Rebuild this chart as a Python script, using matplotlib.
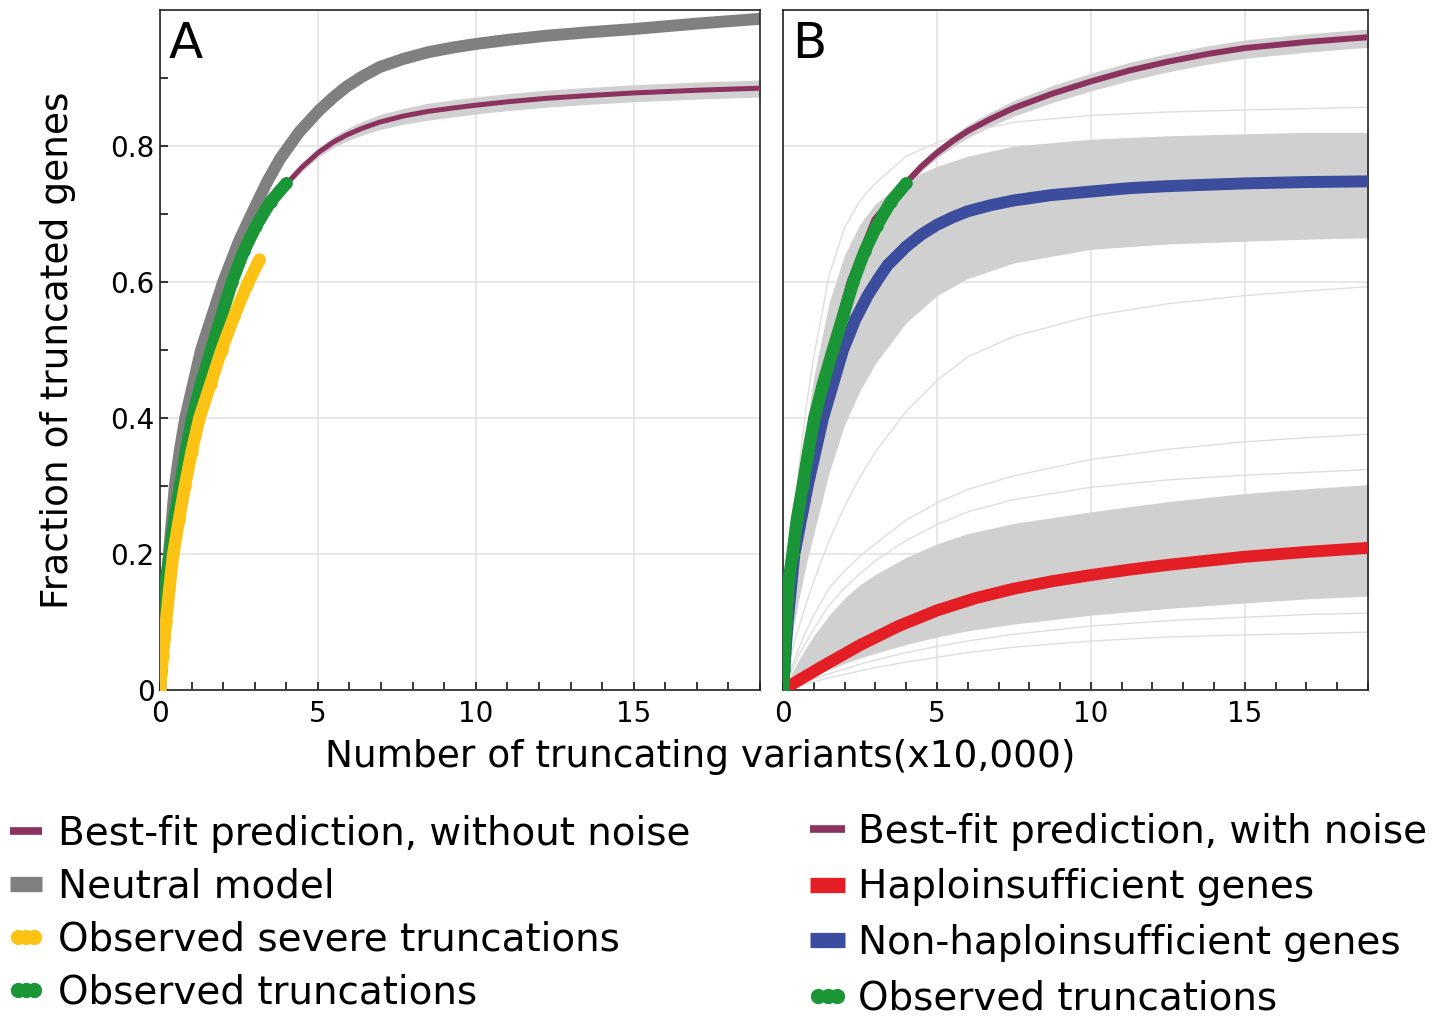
import matplotlib
matplotlib.use("Agg")
import matplotlib.pyplot as plt
from matplotlib.lines import Line2D
from matplotlib.legend_handler import HandlerLine2D

# ---------------------------------------------------------------------------
# Data
# ---------------------------------------------------------------------------

# Panel A: neutral model
neutral_x = [0, 0.13, 0.28, 0.47, 0.62, 0.8, 1.3, 2.0, 2.5, 2.9, 3.4, 3.8, 4.4, 5.03, 5.5, 5.9, 6.4,
             6.95, 7.7, 8.5, 9.3, 10, 11, 12.2, 13.5, 15, 17, 19]
neutral_y = [0, 0.10, 0.20, 0.30, 0.35, 0.40, 0.50, 0.60, 0.66, 0.70, 0.748, 0.781, 0.82, 0.852,
             0.872, 0.887, 0.902, 0.916, 0.928, 0.938, 0.945, 0.950, 0.956, 0.962, 0.967, 0.972,
             0.980, 0.987]

# Panel A: best-fit prediction without noise
fitA_x = [0, 0.12, 0.29, 0.6, 1.0, 1.6, 2.3, 3.1, 4.0, 4.5, 5.03, 5.5, 5.9, 6.4, 6.95, 7.7, 8.5,
          9.3, 10, 11, 12.2, 13.5, 15, 17, 19]
fitA_y = [0, 0.10, 0.20, 0.30, 0.40, 0.50, 0.60, 0.685, 0.744, 0.769, 0.791, 0.806, 0.816, 0.826,
          0.835, 0.844, 0.851, 0.856, 0.860, 0.865, 0.870, 0.874, 0.878, 0.882, 0.885]

# Panel A: spread of simulated curves around the best fit
noiseA_x = [4.0, 4.5, 5.03, 5.5, 5.9, 6.4, 6.95, 7.7, 8.5, 9.3, 10, 11, 12.2, 13.5, 15, 17, 19]
noiseA_hi = [0.749, 0.775, 0.798, 0.814, 0.825, 0.836, 0.846, 0.855, 0.863, 0.868, 0.872, 0.877,
             0.882, 0.886, 0.890, 0.894, 0.897]
noiseA_lo = [0.739, 0.763, 0.784, 0.798, 0.807, 0.816, 0.824, 0.832, 0.838, 0.843, 0.847, 0.852,
             0.857, 0.861, 0.865, 0.869, 0.872]

# Observed truncations (both panels)
obs_x = [0, 0.03, 0.06, 0.1, 0.15, 0.2, 0.31, 0.45, 0.64, 0.82, 1.02, 1.3, 1.62, 1.95, 2.28, 2.65,
         3.05, 3.5, 4.0]
obs_y = [0, 0.03, 0.065, 0.1, 0.135, 0.165, 0.2, 0.25, 0.3, 0.35, 0.4, 0.45, 0.5, 0.55, 0.6, 0.645,
         0.683, 0.718, 0.745]

# Observed severe truncations (panel A)
sev_x = [0, 0.04, 0.09, 0.14, 0.19, 0.3, 0.42, 0.6, 0.79, 1.0, 1.25, 1.6, 1.95, 2.35, 2.75, 3.15]
sev_y = [0, 0.025, 0.05, 0.075, 0.1, 0.15, 0.2, 0.25, 0.3, 0.35, 0.4, 0.45, 0.5, 0.55, 0.595, 0.633]

# Panel B: best-fit prediction with noise
fitB_x = [0, 0.1, 0.31, 0.64, 1.02, 1.56, 2.16, 2.97, 4.0, 4.5, 5, 5.5, 6, 6.75, 7.5, 8.75, 10,
          11.25, 12.5, 13.75, 15, 17, 19]
fitB_y = [0, 0.1, 0.2, 0.3, 0.4, 0.5, 0.6, 0.692, 0.746, 0.770, 0.790, 0.807, 0.822, 0.840, 0.856,
          0.877, 0.895, 0.911, 0.924, 0.935, 0.944, 0.953, 0.960]
noiseB_x = [4.0, 4.5, 5, 5.5, 6, 6.75, 7.5, 8.75, 10, 11.25, 12.5, 13.75, 15, 17, 19]
noiseB_hi = [0.751, 0.776, 0.797, 0.815, 0.831, 0.850, 0.867, 0.889, 0.907, 0.923, 0.936, 0.947,
             0.956, 0.965, 0.972]
noiseB_lo = [0.740, 0.763, 0.782, 0.798, 0.812, 0.829, 0.844, 0.864, 0.881, 0.896, 0.909, 0.920,
             0.929, 0.938, 0.945]

# Panel B: non-haploinsufficient genes
blue_x = [0, 0.15, 0.37, 0.8, 1.3, 1.95, 2.35, 2.75, 3.1, 3.4, 4.0, 4.5, 5, 5.5, 6, 6.75, 7.5,
          8.75, 10, 11.25, 12.5, 15, 17, 19]
blue_y = [0, 0.1, 0.2, 0.3, 0.4, 0.5, 0.545, 0.58, 0.605, 0.625, 0.652, 0.67, 0.684, 0.695, 0.704,
          0.713, 0.72, 0.728, 0.733, 0.738, 0.741, 0.745, 0.747, 0.748]

# Panel B: haploinsufficient genes
red_x = [0, 0.5, 1.25, 2.5, 3.75, 5, 6.25, 7.5, 8.75, 10, 11.25, 12.5, 13.75, 15, 17, 19]
red_y = [0, 0.014, 0.034, 0.066, 0.094, 0.117, 0.135, 0.149, 0.16, 0.169, 0.177, 0.184, 0.19,
         0.196, 0.203, 0.209]

# Panel B: spread of simulated curves (shared x grid)
band_x = [0, 0.25, 0.5, 0.75, 1, 1.5, 2, 2.5, 3, 4, 5, 6, 7.5, 10, 12.5, 15, 17, 19]
nonhi_hi = [0, 0.17, 0.29, 0.385, 0.46, 0.57, 0.64, 0.685, 0.715, 0.75, 0.77, 0.785, 0.80, 0.81,
            0.815, 0.818, 0.82, 0.82]
nonhi_lo = [0, 0.07, 0.13, 0.185, 0.23, 0.32, 0.39, 0.44, 0.48, 0.54, 0.58, 0.605, 0.628, 0.648,
            0.656, 0.66, 0.663, 0.665]
nonhi_out1 = [0, 0.19, 0.32, 0.415, 0.49, 0.61, 0.68, 0.72, 0.745, 0.785, 0.805, 0.82, 0.835,
              0.845, 0.85, 0.853, 0.855, 0.857]
nonhi_out2 = [0, 0.05, 0.09, 0.127, 0.16, 0.22, 0.27, 0.313, 0.35, 0.41, 0.455, 0.49, 0.52, 0.55,
              0.568, 0.58, 0.587, 0.593]
hi_hi = [0, 0.022, 0.043, 0.062, 0.08, 0.11, 0.135, 0.155, 0.17, 0.195, 0.215, 0.23, 0.245, 0.262,
         0.277, 0.289, 0.296, 0.302]
hi_lo = [0, 0.005, 0.01, 0.015, 0.02, 0.03, 0.039, 0.047, 0.054, 0.067, 0.078, 0.087, 0.097, 0.11,
         0.12, 0.128, 0.134, 0.138]
hi_out1 = [0, 0.03, 0.06, 0.086, 0.11, 0.15, 0.175, 0.197, 0.215, 0.25, 0.275, 0.295, 0.315, 0.339,
           0.354, 0.365, 0.371, 0.376]
hi_out2 = [0, 0.025, 0.05, 0.07, 0.09, 0.125, 0.15, 0.171, 0.19, 0.22, 0.243, 0.262, 0.28, 0.298,
           0.309, 0.316, 0.32, 0.324]
hi_out3 = [0, 0.004, 0.008, 0.012, 0.016, 0.024, 0.031, 0.038, 0.044, 0.055, 0.064, 0.072, 0.082,
           0.094, 0.102, 0.107, 0.111, 0.113]
hi_out4 = [0, 0.003, 0.006, 0.009, 0.012, 0.018, 0.023, 0.028, 0.033, 0.041, 0.048, 0.055, 0.063,
           0.072, 0.078, 0.081, 0.083, 0.085]

y_ticks = [0, 0.2, 0.4, 0.6, 0.8]
y_ticklabels = ["0", "0.2", "0.4", "0.6", "0.8"]
x_ticks = [0, 5, 10, 15]

# ---------------------------------------------------------------------------
# Style
# ---------------------------------------------------------------------------

MAROON = "#8c325f"
NEUTRAL = "#808080"
GREEN = "#1a9637"
YELLOW = "#fdc314"
BLUE = "#3b4d9c"
RED = "#e31e24"
BAND = "#d0d0d0"
FAINT = "#dedede"

W, H = 1446, 1023
fig = plt.figure(figsize=(W / 100, H / 100), dpi=100)
axA = fig.add_axes([160 / W, 1 - 690 / H, 600 / W, 680 / H])
axB = fig.add_axes([783 / W, 1 - 690 / H, 585 / W, 680 / H])


def style_axis(ax, show_y):
    ax.set_xlim(0, 19)
    ax.set_ylim(0, 1.0)
    ax.set_xticks(x_ticks)
    ax.set_xticks(range(1, 20), minor=True)
    ax.set_yticks(y_ticks)
    ax.set_yticks([0.1, 0.3, 0.5, 0.7, 0.9], minor=True)
    if show_y:
        ax.set_yticklabels(y_ticklabels)
    else:
        ax.tick_params(axis="y", which="both", left=False, labelleft=False)
    ax.tick_params(axis="both", which="both", direction="in", length=6, width=1.1,
                   labelsize=20, pad=4)
    ax.tick_params(axis="x", which="both", pad=7)
    ax.grid(True, which="major", color="#e0e0e0", linewidth=1.1)
    ax.set_axisbelow(True)
    for sp in ax.spines.values():
        sp.set_linewidth(1.2)
        sp.set_color("#222222")


# ---- Panel A ----
ax = axA
ax.fill_between(noiseA_x, noiseA_lo, noiseA_hi, color=BAND, lw=0, zorder=1)
ax.plot(neutral_x, neutral_y, color=NEUTRAL, lw=8.6, solid_capstyle="butt", zorder=2)
ax.plot(fitA_x, fitA_y, color=MAROON, lw=3.6, zorder=3)
ax.plot(obs_x, obs_y, color=GREEN, lw=9, solid_capstyle="round", zorder=4)
ax.plot(obs_x, obs_y, "o", color=GREEN, ms=9, mew=0, zorder=4)
ax.plot(sev_x, sev_y, color=YELLOW, lw=9, solid_capstyle="round", zorder=5)
ax.plot(sev_x, sev_y, "o", color=YELLOW, ms=9, mew=0, zorder=5)
style_axis(ax, True)
ax.text(0.015, 0.985, "A", transform=ax.transAxes, fontsize=36, va="top", ha="left")

# ---- Panel B ----
ax = axB
ax.fill_between(band_x, nonhi_lo, nonhi_hi, color=BAND, lw=0, zorder=1)
ax.fill_between(band_x, hi_lo, hi_hi, color=BAND, lw=0, zorder=1)
ax.fill_between(noiseB_x, noiseB_lo, noiseB_hi, color=BAND, lw=0, zorder=1)
for curve in [nonhi_out1, nonhi_out2, hi_out1, hi_out2, hi_out3, hi_out4]:
    ax.plot(band_x, curve, color=FAINT, lw=1.0, zorder=1)
ax.plot(fitB_x, fitB_y, color=MAROON, lw=4.3, zorder=3)
ax.plot(blue_x, blue_y, color=BLUE, lw=8.6, solid_capstyle="butt", zorder=3)
ax.plot(red_x, red_y, color=RED, lw=8.6, solid_capstyle="butt", zorder=3)
ax.plot(obs_x, obs_y, color=GREEN, lw=9, solid_capstyle="round", zorder=4)
ax.plot(obs_x, obs_y, "o", color=GREEN, ms=9, mew=0, zorder=4)
style_axis(ax, False)
ax.text(0.015, 0.985, "B", transform=ax.transAxes, fontsize=36, va="top", ha="left")

# ---- Axis labels ----
fig.text(58 / W, 1 - 350 / H, "Fraction of truncated genes", rotation=90,
         ha="center", va="center", fontsize=27)
fig.text(700 / W, 1 - 757 / H, "Number of truncating variants(x10,000)",
         ha="center", va="center", fontsize=27)

# ---- Legends ----
h_fit_a = Line2D([], [], color=MAROON, lw=5.5, solid_capstyle="butt")
h_neutral = Line2D([], [], color=NEUTRAL, lw=11, solid_capstyle="butt")
h_sev = Line2D([], [], color=YELLOW, marker="o", ls="none", ms=11, mew=0)
h_obs = Line2D([], [], color=GREEN, marker="o", ls="none", ms=11, mew=0)
h_fit_b = Line2D([], [], color=MAROON, lw=5.5, solid_capstyle="butt")
h_hi = Line2D([], [], color=RED, lw=11, solid_capstyle="butt")
h_nonhi = Line2D([], [], color=BLUE, lw=11, solid_capstyle="butt")
dots = {h_sev: HandlerLine2D(numpoints=3, marker_pad=0.2),
        h_obs: HandlerLine2D(numpoints=3, marker_pad=0.2)}

fig.legend([h_fit_a, h_neutral, h_sev, h_obs],
           ["Best-fit prediction, without noise", "Neutral model",
            "Observed severe truncations", "Observed truncations"],
           loc="upper left", bbox_to_anchor=(10 / W, 1 - 815 / H), frameon=False,
           fontsize=28, handlelength=0.82, handletextpad=0.42, labelspacing=0.38,
           borderpad=0, borderaxespad=0, numpoints=1, handler_map=dots)
fig.legend([h_fit_b, h_hi, h_nonhi, h_obs],
           ["Best-fit prediction, with noise", "Haploinsufficient genes",
            "Non-haploinsufficient genes", "Observed truncations"],
           loc="upper left", bbox_to_anchor=(810 / W, 1 - 813 / H), frameon=False,
           fontsize=28, handlelength=0.9, handletextpad=0.34, labelspacing=0.45,
           borderpad=0, borderaxespad=0, numpoints=1, handler_map=dots)

fig.savefig("out.png", dpi=100)
